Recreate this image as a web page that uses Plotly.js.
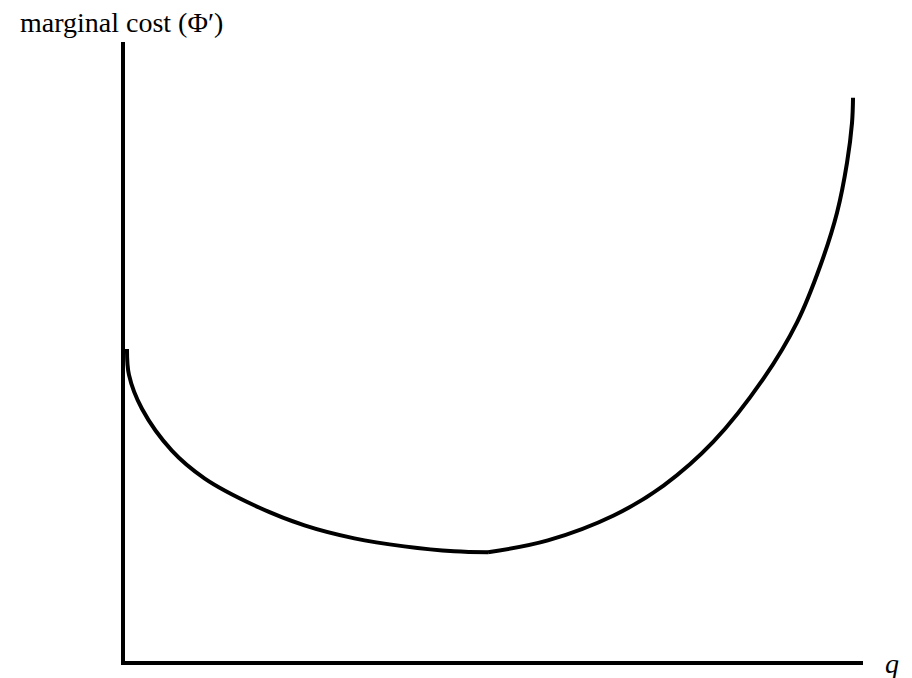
<!DOCTYPE html>
<html>
<head>
<meta charset="utf-8">
<script src="https://cdn.plot.ly/plotly-3.0.1.min.js"></script>
<style>
  body { margin: 0; background: #fff; }
  #chart { width: 912px; height: 678px; }
</style>
</head>
<body>
<div id="chart"></div>
<script>
// Falling branch of the marginal cost curve
const qFalling = [2, 4, 17, 47, 80, 130, 180, 230, 280, 330, 364];
const costFalling = [313, 287, 253, 211, 183, 156, 136, 123, 115, 110, 109];

// Rising branch
const qRising = [364, 424, 490, 540, 590, 640, 674, 697, 714, 724, 729, 730];
const costRising = [109, 121, 146, 176, 220, 283, 340, 396, 450, 500, 540, 565];

const yLabel = "marginal cost (\u03A6\u2032)";
const xLabel = "q";

const curveLine = { color: "#000", width: 4, shape: "spline", smoothing: 1 };
const serif = "Liberation Serif, Times New Roman, serif";

const data = [
    { x: qFalling, y: costFalling, mode: "lines", line: curveLine, hoverinfo: "none" },
    { x: qRising, y: costRising, mode: "lines", line: curveLine, hoverinfo: "none" }
];

const layout = {
    width: 912,
    height: 678,
    margin: { l: 125, r: 49, t: 42, b: 17 },
    showlegend: false,
    paper_bgcolor: "#fff",
    plot_bgcolor: "#fff",
    xaxis: {
        range: [0, 740],
        showgrid: false, zeroline: false, showticklabels: false, ticks: "",
        showline: true, linecolor: "#000", linewidth: 4
    },
    yaxis: {
        range: [0, 621],
        showgrid: false, zeroline: false, showticklabels: false, ticks: "",
        showline: true, linecolor: "#000", linewidth: 4
    },
    annotations: [
        {
            text: yLabel, xref: "paper", yref: "paper", x: 0, y: 1,
            xshift: -107, yshift: 2, xanchor: "left", yanchor: "bottom",
            showarrow: false,
            font: { family: serif, size: 28, color: "#000" }
        },
        {
            text: "<i>" + xLabel + "</i>", xref: "paper", yref: "paper", x: 1, y: 0,
            xshift: 20, yshift: -2, xanchor: "left", yanchor: "middle",
            showarrow: false,
            font: { family: serif, size: 28, color: "#000" }
        }
    ]
};

Plotly.newPlot("chart", data, layout, { displayModeBar: false, staticPlot: true });
</script>
</body>
</html>
